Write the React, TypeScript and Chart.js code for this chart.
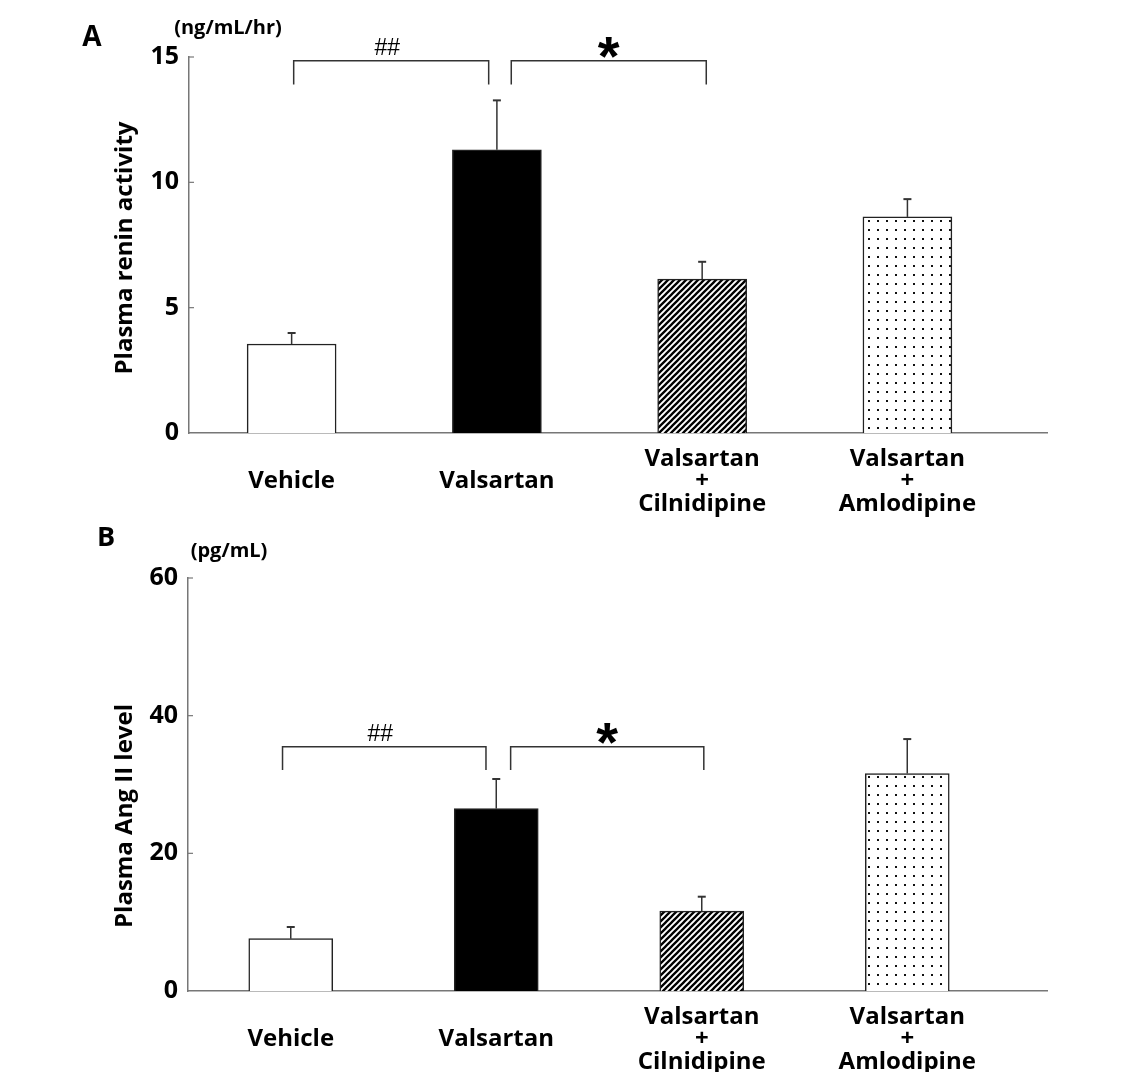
import React, { useEffect, useRef } from "react";
import { Chart, registerables } from "chart.js";

Chart.register(...registerables);

// ---- data ----
const categories: string[][] = [
  ["Vehicle"],
  ["Valsartan"],
  ["Valsartan", "+", "Cilnidipine"],
  ["Valsartan", "+", "Amlodipine"],
];
const reninMean = [3.55, 11.3, 6.14, 8.62];
const reninSem = [0.44, 1.97, 0.69, 0.71];
const reninTicks = [0, 5, 10, 15];

const angMean = [7.6, 26.5, 11.6, 31.6];
const angSem = [1.7, 4.3, 2.1, 5.0];
const angTicks = [0, 20, 40, 60];

// significance brackets: x in category units, y in data units
const bracketsA = [
  { from: 0.01, to: 0.96, top: 14.85, bottom: 13.9, label: "##" },
  { from: 1.07, to: 2.02, top: 14.85, bottom: 13.9, label: "*" },
];
const bracketsB = [
  { from: -0.04, to: 0.95, top: 35.5, bottom: 32.1, label: "##" },
  { from: 1.07, to: 2.01, top: 35.5, bottom: 32.1, label: "*" },
];

const FONT = "'Open Sans'";

function drawCentered(ctx: CanvasRenderingContext2D, text: string, cx: number, cy: number, font: string) {
  ctx.font = font;
  ctx.textAlign = "center";
  ctx.textBaseline = "alphabetic";
  const m = ctx.measureText(text);
  const a = m.actualBoundingBoxAscent;
  const d = m.actualBoundingBoxDescent;
  ctx.fillText(text, cx, cy + (a - d) / 2);
}

function drawBottomAt(ctx: CanvasRenderingContext2D, text: string, cx: number, bottom: number, font: string) {
  ctx.font = font;
  ctx.textAlign = "center";
  ctx.textBaseline = "alphabetic";
  const m = ctx.measureText(text);
  ctx.fillText(text, cx, bottom - m.actualBoundingBoxDescent);
}

function makeStripes(): CanvasPattern | string {
  const c = document.createElement("canvas");
  c.width = 6;
  c.height = 6;
  const g = c.getContext("2d");
  if (!g) return "#888";
  g.fillStyle = "#fff";
  g.fillRect(0, 0, 6, 6);
  g.strokeStyle = "#000";
  g.lineWidth = 2.3;
  g.beginPath();
  g.moveTo(0, 6);
  g.lineTo(6, 0);
  g.moveTo(-3, 3);
  g.lineTo(3, -3);
  g.moveTo(3, 9);
  g.lineTo(9, 3);
  g.stroke();
  return g.createPattern(c, "repeat") as CanvasPattern;
}

function makeDots(): CanvasPattern | string {
  const c = document.createElement("canvas");
  c.width = 9;
  c.height = 9;
  const g = c.getContext("2d");
  if (!g) return "#eee";
  g.fillStyle = "#fff";
  g.fillRect(0, 0, 9, 9);
  g.fillStyle = "#111";
  g.fillRect(4, 4, 2, 2);
  return g.createPattern(c, "repeat") as CanvasPattern;
}

type PanelCfg = {
  mean: number[];
  sem: number[];
  ticks: number[];
  yMax: number;
  brackets: { from: number; to: number; top: number; bottom: number; label: string }[];
  title: string;
  titleX: number;
  titleY: number;
  unit: string;
  unitX: number;
  unitY: number;
  letter: string;
  letterX: number;
  letterY: number;
  letterSize: number;
  width: number;
  height: number;
  top: number;
  areaTop: number;
  areaBottom: number;
  areaLeft: number;
  areaRight: number;
  barThickness: number;
};

function decorPlugin(cfg: PanelCfg) {
  return {
    id: "decor",
    afterDatasetsDraw(chart: any) {
      const { ctx, chartArea, scales } = chart;
      const xs = scales.x;
      const ys = scales.y;
      const meta = chart.getDatasetMeta(0);
      ctx.save();
      // inward tick marks
      ctx.strokeStyle = "#777";
      ctx.lineWidth = 1.2;
      cfg.ticks.forEach((v) => {
        if (v === 0) return;
        const y = ys.getPixelForValue(v);
        ctx.beginPath();
        ctx.moveTo(chartArea.left, y);
        ctx.lineTo(chartArea.left + 5, y);
        ctx.stroke();
      });
      // error bars (upper only)
      ctx.strokeStyle = "#333";
      meta.data.forEach((bar: any, i: number) => {
        const x = bar.x;
        const y0 = ys.getPixelForValue(cfg.mean[i]);
        const y1 = ys.getPixelForValue(cfg.mean[i] + cfg.sem[i]);
        ctx.lineWidth = 1.5;
        ctx.beginPath();
        ctx.moveTo(x, y0);
        ctx.lineTo(x, y1);
        ctx.stroke();
        ctx.lineWidth = 2;
        ctx.beginPath();
        ctx.moveTo(x - 4, y1);
        ctx.lineTo(x + 4, y1);
        ctx.stroke();
      });
      // brackets
      ctx.fillStyle = "#000";
      cfg.brackets.forEach((b) => {
        const x1 = xs.getPixelForValue(b.from);
        const x2 = xs.getPixelForValue(b.to);
        const yt = ys.getPixelForValue(b.top);
        const yb = ys.getPixelForValue(b.bottom);
        ctx.strokeStyle = "#333";
        ctx.lineWidth = 1.5;
        ctx.beginPath();
        ctx.moveTo(x1, yb);
        ctx.lineTo(x1, yt);
        ctx.lineTo(x2, yt);
        ctx.lineTo(x2, yb);
        ctx.stroke();
        const cx = (x1 + x2) / 2;
        if (b.label === "*") {
          drawBottomAt(ctx, b.label, cx, yt - 3, "bold 56px 'Liberation Sans'");
        } else {
          drawBottomAt(ctx, b.label, cx - 4, yt - 6, "23px 'Liberation Sans'");
        }
      });
      // y title
      ctx.save();
      ctx.translate(cfg.titleX, cfg.titleY);
      ctx.rotate(-Math.PI / 2);
      ctx.fillStyle = "#000";
      ctx.font = `bold 24px ${FONT}`;
      ctx.textAlign = "center";
      ctx.textBaseline = "middle";
      ctx.fillText(cfg.title, 0, 0);
      ctx.restore();
      // unit & panel letter
      ctx.fillStyle = "#000";
      drawCentered(ctx, cfg.unit, cfg.unitX, cfg.unitY, `bold 20px ${FONT}`);
      drawCentered(ctx, cfg.letter, cfg.letterX, cfg.letterY, `bold ${cfg.letterSize}px ${FONT}`);
      ctx.restore();
    },
  };
}

function Panel({ cfg }: { cfg: PanelCfg }) {
  const ref = useRef<HTMLCanvasElement | null>(null);
  useEffect(() => {
    const canvas = ref.current;
    if (!canvas) return;
    const fills = ["#ffffff", "#000000", makeStripes(), makeDots()];
    const chart = new Chart(canvas, {
      type: "bar",
      data: {
        datasets: [
          {
            data: cfg.mean.map((v, i) => ({ x: i, y: v })) as any,
            backgroundColor: fills as any,
            borderColor: "#222",
            borderWidth: 1.5,
            barThickness: cfg.barThickness,
          },
        ],
      },
      options: {
        animation: false,
        responsive: false,
        maintainAspectRatio: false,
        layout: {
          padding: {
            top: cfg.areaTop,
            right: cfg.width - cfg.areaRight,
            left: 0,
            bottom: 0,
          },
        },
        plugins: {
          legend: { display: false },
          tooltip: { enabled: false },
        },
        scales: {
          x: {
            type: "linear",
            offset: false,
            min: -0.5,
            max: 3.68,
            afterBuildTicks: (s: any) => {
              s.ticks = categories.map((_, i) => ({ value: i }));
            },
            afterFit: (s: any) => {
              s.height = cfg.height - cfg.areaBottom;
            },
            ticks: {
              callback: (v: any) => categories[Math.round(Number(v))],
              font: { family: "Open Sans", size: 24, weight: "bold", lineHeight: 0.94 },
              color: "#000",
              crossAlign: "center",
              padding: 26,
              maxRotation: 0,
              autoSkip: false,
            },
            grid: { display: false, drawTicks: false },
            border: { display: true, color: "#777", width: 1.5 },
          },
          y: {
            min: 0,
            max: cfg.yMax,
            afterBuildTicks: (s: any) => {
              s.ticks = cfg.ticks.map((v) => ({ value: v }));
            },
            afterFit: (s: any) => {
              s.width = cfg.areaLeft;
            },
            ticks: {
              font: { family: "Open Sans", size: 25, weight: "bold" },
              color: "#000",
              padding: 10,
            },
            grid: { display: false, drawTicks: false },
            border: { display: true, color: "#777", width: 1.5 },
          },
        },
      } as any,
      plugins: [decorPlugin(cfg)],
    });
    return () => chart.destroy();
  }, [cfg]);
  return (
    <canvas
      ref={ref}
      width={cfg.width}
      height={cfg.height}
      style={{ position: "absolute", left: 0, top: cfg.top, width: cfg.width, height: cfg.height }}
    />
  );
}

const panelA: PanelCfg = {
  mean: reninMean,
  sem: reninSem,
  ticks: reninTicks,
  yMax: 15,
  brackets: bracketsA,
  title: "Plasma renin activity",
  titleX: 125,
  titleY: 248,
  unit: "(ng/mL/hr)",
  unitX: 228,
  unitY: 29,
  letter: "A",
  letterX: 92,
  letterY: 35,
  letterSize: 28,
  width: 1140,
  height: 520,
  top: 0,
  areaTop: 57,
  areaBottom: 433,
  areaLeft: 189,
  areaRight: 1047,
  barThickness: 89,
};

const panelB: PanelCfg = {
  mean: angMean,
  sem: angSem,
  ticks: angTicks,
  yMax: 60,
  brackets: bracketsB,
  title: "Plasma Ang II level",
  titleX: 125,
  titleY: 296,
  unit: "(pg/mL)",
  unitX: 229,
  unitY: 32,
  letter: "B",
  letterX: 106,
  letterY: 16,
  letterSize: 27,
  width: 1140,
  height: 552,
  top: 520,
  areaTop: 58,
  areaBottom: 471,
  areaLeft: 188,
  areaRight: 1047,
  barThickness: 84,
};

export default function App() {
  return (
    <div
      style={{
        position: "absolute",
        left: 0,
        top: 0,
        width: 1140,
        height: 1072,
        background: "#fff",
        overflow: "hidden",
      }}
    >
      <Panel cfg={panelA} />
      <Panel cfg={panelB} />
    </div>
  );
}
